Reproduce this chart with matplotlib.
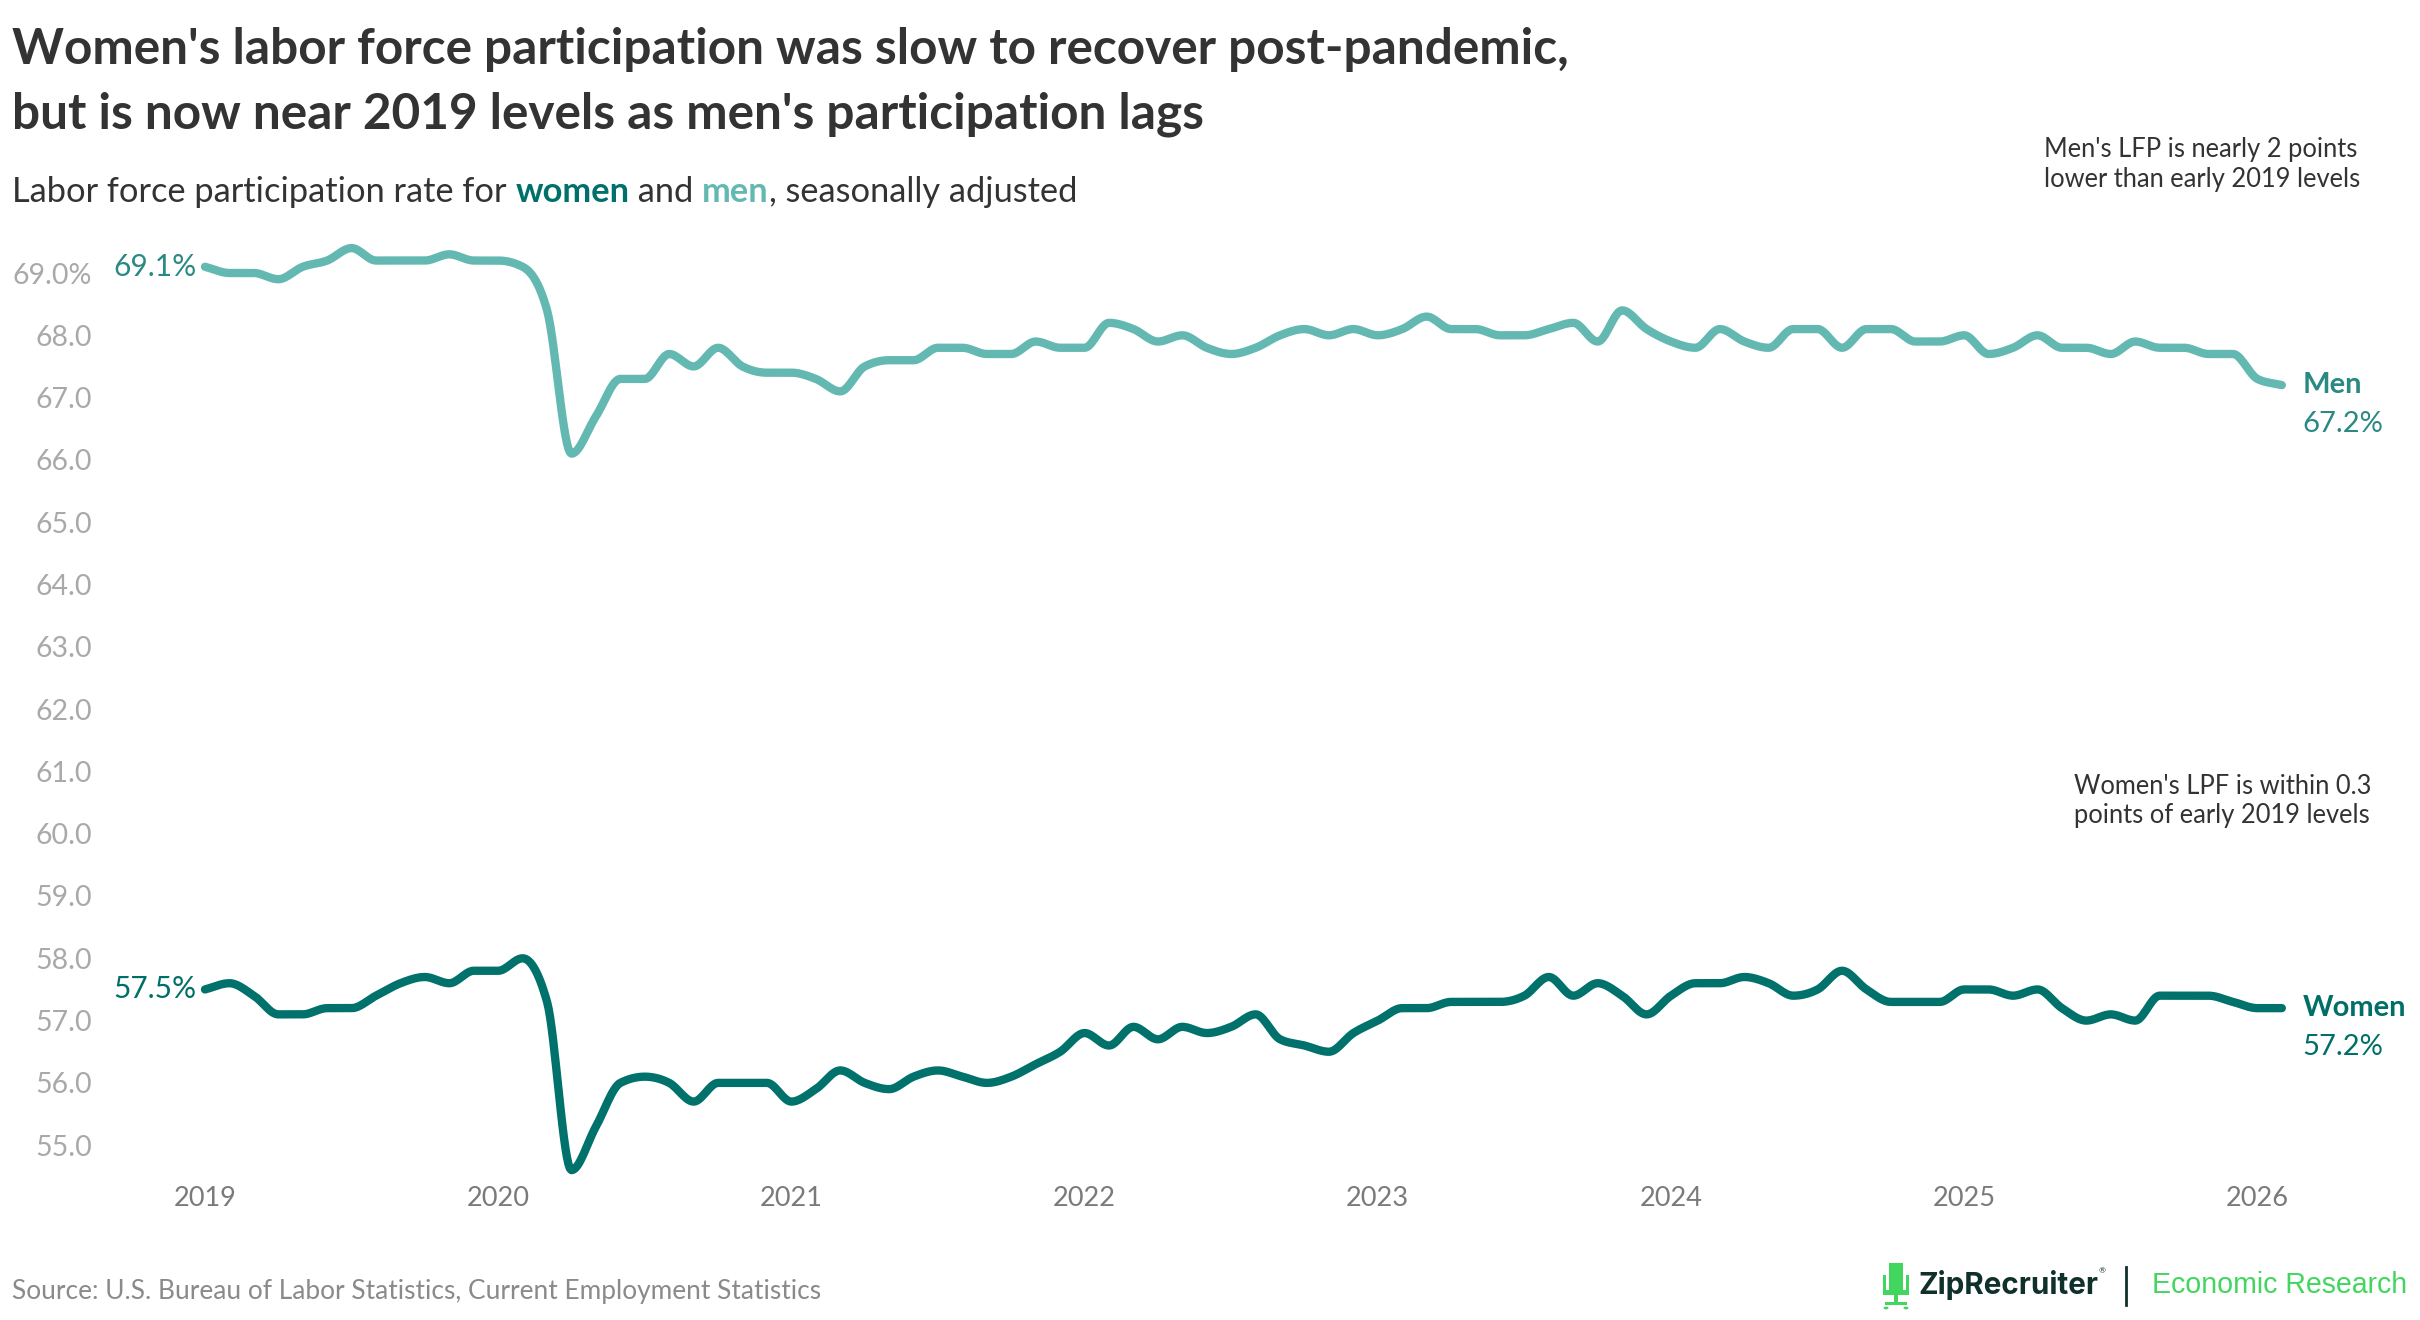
import numpy as np
import pandas as pd
import matplotlib
matplotlib.use("Agg")
import matplotlib.pyplot as plt
from matplotlib.patches import Rectangle, Circle

# monthly LFP rates, Jan 2019 - Feb 2026
months = pd.date_range("2019-01-01", periods=86, freq="MS")
men = [69.1, 69.0, 69.0, 68.9, 69.1, 69.2, 69.4, 69.2, 69.2, 69.2, 69.3, 69.2,
       69.2, 69.1, 68.4, 66.1, 66.7, 67.3, 67.3, 67.7, 67.5, 67.8, 67.5, 67.4,
       67.4, 67.3, 67.1, 67.5, 67.6, 67.6, 67.8, 67.8, 67.7, 67.7, 67.9, 67.8,
       67.8, 68.2, 68.1, 67.9, 68.0, 67.8, 67.7, 67.8, 68.0, 68.1, 68.0, 68.1,
       68.0, 68.1, 68.3, 68.1, 68.1, 68.0, 68.0, 68.1, 68.2, 67.9, 68.4, 68.1,
       67.9, 67.8, 68.1, 67.9, 67.8, 68.1, 68.1, 67.8, 68.1, 68.1, 67.9, 67.9,
       68.0, 67.7, 67.8, 68.0, 67.8, 67.8, 67.7, 67.9, 67.8, 67.8, 67.7, 67.7,
       67.3, 67.2]
women = [57.5, 57.6, 57.4, 57.1, 57.1, 57.2, 57.2, 57.4, 57.6, 57.7, 57.6, 57.8,
         57.8, 58.0, 57.3, 54.6, 55.3, 56.0, 56.1, 56.0, 55.7, 56.0, 56.0, 56.0,
         55.7, 55.9, 56.2, 56.0, 55.9, 56.1, 56.2, 56.1, 56.0, 56.1, 56.3, 56.5,
         56.8, 56.6, 56.9, 56.7, 56.9, 56.8, 56.9, 57.1, 56.7, 56.6, 56.5, 56.8,
         57.0, 57.2, 57.2, 57.3, 57.3, 57.3, 57.4, 57.7, 57.4, 57.6, 57.4, 57.1,
         57.4, 57.6, 57.6, 57.7, 57.6, 57.4, 57.5, 57.8, 57.5, 57.3, 57.3, 57.3,
         57.5, 57.5, 57.4, 57.5, 57.2, 57.0, 57.1, 57.0, 57.4, 57.4, 57.4, 57.3,
         57.2, 57.2]

year_ticks = list(range(2019, 2027))
y_ticks = list(range(55, 70))
y_labels = ["%.1f" % v for v in y_ticks[:-1]] + ["69.0%"]

title1 = "Women's labor force participation was slow to recover post-pandemic,"
title2 = "but is now near 2019 levels as men's participation lags"
sub_parts = [("Labor force participation rate for ", "#333333", "normal"),
             ("women", "#00706a", "bold"),
             (" and ", "#333333", "normal"),
             ("men", "#63b9b2", "bold"),
             (", seasonally adjusted", "#333333", "normal")]
note_men = "Men's LFP is nearly 2 points\nlower than early 2019 levels"
note_women = "Women's LPF is within 0.3\npoints of early 2019 levels"
source = "Source: U.S. Bureau of Labor Statistics, Current Employment Statistics"

MEN_C = "#63b9b2"
WOMEN_C = "#00716b"
MEN_TXT = "#2a8983"
WOMEN_TXT = "#006f68"

plt.rcParams["font.family"] = ["Lato", "DejaVu Sans"]

W, H = 2420, 1320
fig = plt.figure(figsize=(W / 100, H / 100), dpi=100)
fig.patch.set_facecolor("white")


def fx(x):
    return x / W


def fy(y):
    return 1 - y / H


def monotone(x, y, n=16):
    # monotone cubic (like d3 curveMonotoneX)
    x = np.asarray(x, float)
    y = np.asarray(y, float)
    h = np.diff(x)
    d = np.diff(y) / h
    m = np.zeros(len(x))
    m[0], m[-1] = d[0], d[-1]
    for i in range(1, len(x) - 1):
        s0, s1 = d[i - 1], d[i]
        p = (s0 * h[i] + s1 * h[i - 1]) / (h[i - 1] + h[i])
        m[i] = (np.sign(s0) + np.sign(s1)) * min(abs(s0), abs(s1), 0.5 * abs(p))
    xs, ys = [], []
    for i in range(len(x) - 1):
        t = np.linspace(0, 1, n, endpoint=False)
        h00 = 2 * t**3 - 3 * t**2 + 1
        h10 = t**3 - 2 * t**2 + t
        h01 = -2 * t**3 + 3 * t**2
        h11 = t**3 - t**2
        xs.append(x[i] + t * h[i])
        ys.append(h00 * y[i] + h10 * h[i] * m[i] + h01 * y[i + 1] + h11 * h[i] * m[i + 1])
    xs.append([x[-1]])
    ys.append([y[-1]])
    return np.concatenate(xs), np.concatenate(ys)


xv = np.array([d.year + (d.month - 1) / 12 for d in months])

# axes placed so 2019 sits at px 205 and 69.0 at px 273
left, right, top, bottom = 100, 2300, 240, 1180
px_year, px_unit = 293.2, 62.3
ax = fig.add_axes([fx(left), fy(bottom), fx(right) - fx(left), fy(top) - fy(bottom)])
ax.set_xlim(2019 + (left - 205) / px_year, 2019 + (right - 205) / px_year)
ax.set_ylim(69 - (bottom - 273) / px_unit, 69 + (273 - top) / px_unit)

for vals, col in [(men, MEN_C), (women, WOMEN_C)]:
    sx, sy = monotone(xv, vals)
    ax.plot(sx, sy, color=col, lw=6, solid_capstyle="round", clip_on=False)

ax.set_xticks(year_ticks)
ax.set_xticklabels([str(y) for y in year_ticks])
ax.set_yticks(y_ticks)
ax.set_yticklabels(y_labels)
ax.tick_params(axis="x", length=0, pad=4, labelsize=19.5, labelcolor="#7a7a7a")
ax.tick_params(axis="y", length=0, pad=6, labelsize=20.5, labelcolor="#a9a9a9")
for s in ax.spines.values():
    s.set_visible(False)

# start / end labels
ax.annotate("69.1%", (xv[0], men[0]), xytext=(-6, 0), textcoords="offset points",
            ha="right", va="center", fontsize=21.5, color=MEN_TXT)
ax.annotate("57.5%", (xv[0], women[0]), xytext=(-6, 0), textcoords="offset points",
            ha="right", va="center", fontsize=21.5, color=WOMEN_TXT)
ax.annotate("Men", (xv[-1], men[-1]), xytext=(15, 0), textcoords="offset points",
            ha="left", va="center", fontsize=21, fontweight="bold", color=MEN_TXT,
            annotation_clip=False)
ax.annotate("67.2%", (xv[-1], men[-1]), xytext=(15, -28), textcoords="offset points",
            ha="left", va="center", fontsize=21, color=MEN_TXT, annotation_clip=False)
ax.annotate("Women", (xv[-1], women[-1]), xytext=(15, 0), textcoords="offset points",
            ha="left", va="center", fontsize=21, fontweight="bold", color=WOMEN_TXT,
            annotation_clip=False)
ax.annotate("57.2%", (xv[-1], women[-1]), xytext=(15, -28), textcoords="offset points",
            ha="left", va="center", fontsize=21, color=WOMEN_TXT, annotation_clip=False)

renderer = fig.canvas.get_renderer()


def fit(t, target):
    w = t.get_window_extent(renderer).width
    t.set_fontsize(t.get_fontsize() * target / w)


t1 = fig.text(fx(12), fy(49), title1, ha="left", va="center", fontsize=34,
              fontweight="bold", color="#333333")
fit(t1, 1559)
t2 = fig.text(fx(12), fy(114), title2, ha="left", va="center",
              fontsize=t1.get_fontsize(), fontweight="bold", color="#333333")

# subtitle in coloured pieces
sub = []
prev = fig.text(fx(12), fy(208), sub_parts[0][0], ha="left", va="bottom",
                fontsize=22, color=sub_parts[0][1], fontweight=sub_parts[0][2])
sub.append(prev)
for txt, col, wt in sub_parts[1:]:
    prev = ax.annotate(txt, xy=(1, 0), xycoords=prev, ha="left", va="bottom",
                       fontsize=22, color=col, fontweight=wt, annotation_clip=False)
    sub.append(prev)
fig.canvas.draw()
sw = sub[-1].get_window_extent(renderer).x1 - sub[0].get_window_extent(renderer).x0
for s in sub:
    s.set_fontsize(22 * 1062 / sw)

n1 = fig.text(fx(2044), fy(164), note_men, ha="left", va="center", fontsize=17,
              color="#333333", linespacing=1.25)
fit(n1, 317)
n2 = fig.text(fx(2074), fy(801), note_women, ha="left", va="center",
              fontsize=n1.get_fontsize(), color="#333333", linespacing=1.25)

src = fig.text(fx(12), fy(1292), source, ha="left", va="center", fontsize=16,
               color="#8a8a8a")
fit(src, 809)

# ZipRecruiter logo
green = "#43d65e"
zr = fig.text(fx(1918), fy(1285), "ZipRecruiter", ha="left", va="center", fontsize=20,
              fontweight="bold", color="#10302b", family=["Inter", "DejaVu Sans"])
fit(zr, 180)
fig.text(fx(2099), fy(1271), "\u00ae", ha="left", va="center", fontsize=6, color="#10302b")
fig.add_artist(plt.Line2D([fx(2126), fx(2126)], [fy(1267), fy(1305)], color="#10302b", lw=2))
er = fig.text(fx(2152), fy(1285), "Economic Research", ha="left", va="center", fontsize=20,
              color=green, family=["Liberation Sans", "DejaVu Sans"])
fit(er, 255)


def box(x0, y0, x1, y1):
    fig.add_artist(Rectangle((fx(x0), fy(y1)), fx(x1) - fx(x0), fy(y0) - fy(y1),
                             transform=fig.transFigure, color=green, lw=0))


box(1889, 1263, 1903, 1292)   # back
box(1883, 1275, 1886, 1292)   # arms
box(1906, 1275, 1909, 1292)
box(1883, 1290, 1909, 1295)   # seat
box(1894, 1295, 1898, 1304)   # stem
box(1885, 1302, 1907, 1305)   # base
for cx in (1886, 1906):
    fig.add_artist(Circle((fx(cx), fy(1308)), 2.5 / W, transform=fig.transFigure,
                          color=green, lw=0))

fig.savefig("out.png", dpi=100, facecolor="white")
